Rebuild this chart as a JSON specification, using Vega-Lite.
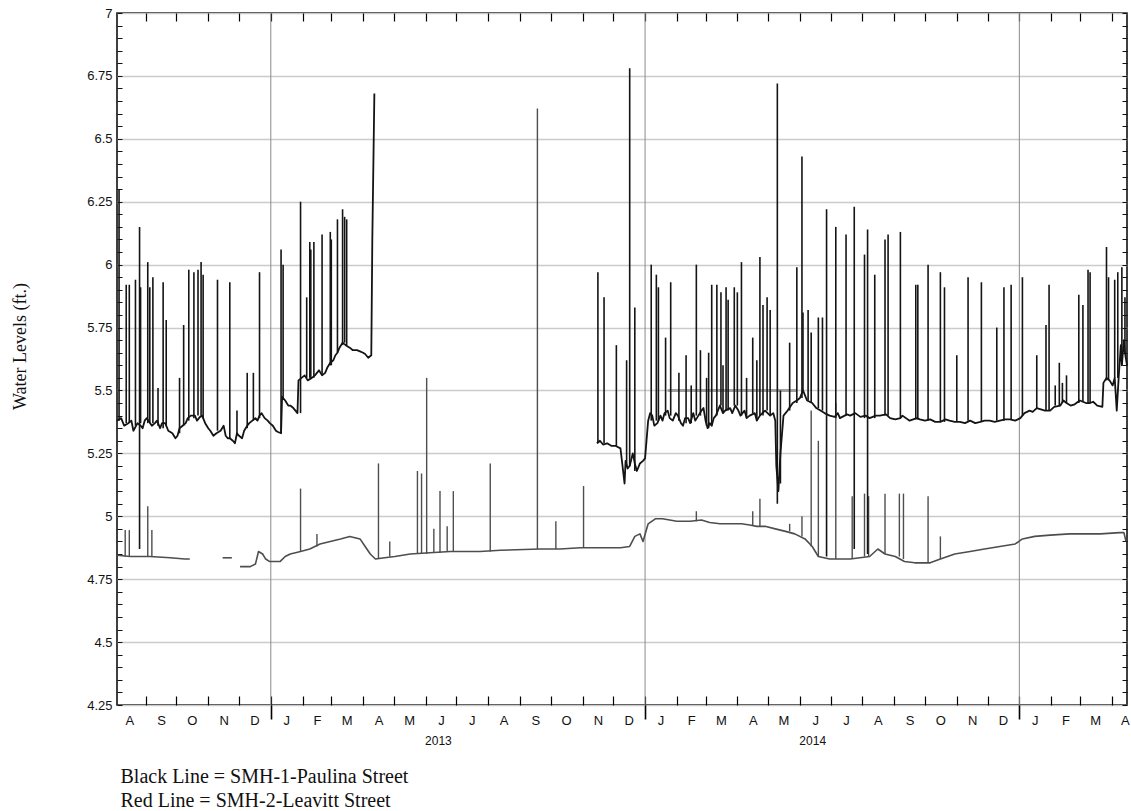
{
  "$schema": "https://vega.github.io/schema/vega-lite/v6.json",
  "width": 1010,
  "height": 692,
  "autosize": "none",
  "padding": {"left": 117, "top": 13, "right": 4, "bottom": 106},
  "background": "white",
  "config": {
    "view": {"stroke": "#000", "strokeWidth": 1.5},
    "axis": {
      "labelFont": "Liberation Sans",
      "titleFont": "Liberation Serif",
      "labelColor": "#111",
      "titleColor": "#111",
      "tickColor": "#111",
      "domain": false,
      "grid": false,
      "labelFlush": false,
      "labelOverlap": false,
      "labelBound": false
    }
  },
  "datasets": {
    "years": [
      {"date": "2013-01-01"},
      {"date": "2014-01-01"},
      {"date": "2015-01-01"}
    ],
    "readings": [
      {"site": "SMH-1", "run": 1, "date": "2012-08-04", "level": 5.38},
      {"site": "SMH-1", "run": 1, "date": "2012-08-08", "level": 5.39},
      {"site": "SMH-1", "run": 1, "date": "2012-08-11", "level": 5.36},
      {"site": "SMH-1", "run": 1, "date": "2012-08-15", "level": 5.37},
      {"site": "SMH-1", "run": 1, "date": "2012-08-18", "level": 5.38},
      {"site": "SMH-1", "run": 1, "date": "2012-08-20", "level": 5.34},
      {"site": "SMH-1", "run": 1, "date": "2012-08-24", "level": 5.37},
      {"site": "SMH-1", "run": 1, "date": "2012-08-27", "level": 5.36},
      {"site": "SMH-1", "run": 1, "date": "2012-08-29", "level": 5.35},
      {"site": "SMH-1", "run": 1, "date": "2012-08-31", "level": 5.38},
      {"site": "SMH-1", "run": 1, "date": "2012-09-02", "level": 5.39},
      {"site": "SMH-1", "run": 1, "date": "2012-09-07", "level": 5.36},
      {"site": "SMH-1", "run": 1, "date": "2012-09-10", "level": 5.37},
      {"site": "SMH-1", "run": 1, "date": "2012-09-12", "level": 5.38},
      {"site": "SMH-1", "run": 1, "date": "2012-09-15", "level": 5.35},
      {"site": "SMH-1", "run": 1, "date": "2012-09-17", "level": 5.37},
      {"site": "SMH-1", "run": 1, "date": "2012-09-20", "level": 5.37},
      {"site": "SMH-1", "run": 1, "date": "2012-09-23", "level": 5.34},
      {"site": "SMH-1", "run": 1, "date": "2012-09-27", "level": 5.33},
      {"site": "SMH-1", "run": 1, "date": "2012-09-30", "level": 5.31},
      {"site": "SMH-1", "run": 1, "date": "2012-10-02", "level": 5.32},
      {"site": "SMH-1", "run": 1, "date": "2012-10-04", "level": 5.35},
      {"site": "SMH-1", "run": 1, "date": "2012-10-07", "level": 5.36},
      {"site": "SMH-1", "run": 1, "date": "2012-10-10", "level": 5.37},
      {"site": "SMH-1", "run": 1, "date": "2012-10-12", "level": 5.39},
      {"site": "SMH-1", "run": 1, "date": "2012-10-15", "level": 5.40},
      {"site": "SMH-1", "run": 1, "date": "2012-10-19", "level": 5.40},
      {"site": "SMH-1", "run": 1, "date": "2012-10-21", "level": 5.38},
      {"site": "SMH-1", "run": 1, "date": "2012-10-24", "level": 5.395},
      {"site": "SMH-1", "run": 1, "date": "2012-10-26", "level": 5.40},
      {"site": "SMH-1", "run": 1, "date": "2012-10-29", "level": 5.37},
      {"site": "SMH-1", "run": 1, "date": "2012-11-01", "level": 5.35},
      {"site": "SMH-1", "run": 1, "date": "2012-11-03", "level": 5.34},
      {"site": "SMH-1", "run": 1, "date": "2012-11-06", "level": 5.32},
      {"site": "SMH-1", "run": 1, "date": "2012-11-09", "level": 5.33},
      {"site": "SMH-1", "run": 1, "date": "2012-11-13", "level": 5.34},
      {"site": "SMH-1", "run": 1, "date": "2012-11-16", "level": 5.36},
      {"site": "SMH-1", "run": 1, "date": "2012-11-18", "level": 5.32},
      {"site": "SMH-1", "run": 1, "date": "2012-11-20", "level": 5.31},
      {"site": "SMH-1", "run": 1, "date": "2012-11-22", "level": 5.31},
      {"site": "SMH-1", "run": 1, "date": "2012-11-25", "level": 5.30},
      {"site": "SMH-1", "run": 1, "date": "2012-11-27", "level": 5.29},
      {"site": "SMH-1", "run": 1, "date": "2012-11-29", "level": 5.33},
      {"site": "SMH-1", "run": 1, "date": "2012-12-01", "level": 5.32},
      {"site": "SMH-1", "run": 1, "date": "2012-12-04", "level": 5.31},
      {"site": "SMH-1", "run": 1, "date": "2012-12-06", "level": 5.34},
      {"site": "SMH-1", "run": 1, "date": "2012-12-09", "level": 5.36},
      {"site": "SMH-1", "run": 1, "date": "2012-12-11", "level": 5.37},
      {"site": "SMH-1", "run": 1, "date": "2012-12-14", "level": 5.38},
      {"site": "SMH-1", "run": 1, "date": "2012-12-17", "level": 5.39},
      {"site": "SMH-1", "run": 1, "date": "2012-12-19", "level": 5.38},
      {"site": "SMH-1", "run": 1, "date": "2012-12-21", "level": 5.40},
      {"site": "SMH-1", "run": 1, "date": "2012-12-23", "level": 5.41},
      {"site": "SMH-1", "run": 1, "date": "2012-12-26", "level": 5.39},
      {"site": "SMH-1", "run": 1, "date": "2012-12-29", "level": 5.38},
      {"site": "SMH-1", "run": 1, "date": "2012-12-31", "level": 5.37},
      {"site": "SMH-1", "run": 1, "date": "2013-01-03", "level": 5.36},
      {"site": "SMH-1", "run": 1, "date": "2013-01-06", "level": 5.34},
      {"site": "SMH-1", "run": 1, "date": "2013-01-08", "level": 5.335},
      {"site": "SMH-1", "run": 1, "date": "2013-01-11", "level": 5.33},
      {"site": "SMH-1", "run": 1, "date": "2013-01-12", "level": 5.475},
      {"site": "SMH-1", "run": 1, "date": "2013-01-15", "level": 5.46},
      {"site": "SMH-1", "run": 1, "date": "2013-01-18", "level": 5.44},
      {"site": "SMH-1", "run": 1, "date": "2013-01-20", "level": 5.44},
      {"site": "SMH-1", "run": 1, "date": "2013-01-23", "level": 5.43},
      {"site": "SMH-1", "run": 1, "date": "2013-01-25", "level": 5.42},
      {"site": "SMH-1", "run": 1, "date": "2013-01-27", "level": 5.41},
      {"site": "SMH-1", "run": 1, "date": "2013-01-28", "level": 5.54},
      {"site": "SMH-1", "run": 1, "date": "2013-01-31", "level": 5.55},
      {"site": "SMH-1", "run": 1, "date": "2013-02-03", "level": 5.56},
      {"site": "SMH-1", "run": 1, "date": "2013-02-06", "level": 5.54},
      {"site": "SMH-1", "run": 1, "date": "2013-02-10", "level": 5.55},
      {"site": "SMH-1", "run": 1, "date": "2013-02-13", "level": 5.56},
      {"site": "SMH-1", "run": 1, "date": "2013-02-15", "level": 5.57},
      {"site": "SMH-1", "run": 1, "date": "2013-02-17", "level": 5.58},
      {"site": "SMH-1", "run": 1, "date": "2013-02-20", "level": 5.56},
      {"site": "SMH-1", "run": 1, "date": "2013-02-23", "level": 5.57},
      {"site": "SMH-1", "run": 1, "date": "2013-02-25", "level": 5.59},
      {"site": "SMH-1", "run": 1, "date": "2013-02-28", "level": 5.61},
      {"site": "SMH-1", "run": 1, "date": "2013-03-03", "level": 5.62},
      {"site": "SMH-1", "run": 1, "date": "2013-03-05", "level": 5.64},
      {"site": "SMH-1", "run": 1, "date": "2013-03-07", "level": 5.65},
      {"site": "SMH-1", "run": 1, "date": "2013-03-09", "level": 5.67},
      {"site": "SMH-1", "run": 1, "date": "2013-03-12", "level": 5.69},
      {"site": "SMH-1", "run": 1, "date": "2013-03-15", "level": 5.68},
      {"site": "SMH-1", "run": 1, "date": "2013-03-19", "level": 5.67},
      {"site": "SMH-1", "run": 1, "date": "2013-03-22", "level": 5.66},
      {"site": "SMH-1", "run": 1, "date": "2013-03-26", "level": 5.66},
      {"site": "SMH-1", "run": 1, "date": "2013-03-29", "level": 5.655},
      {"site": "SMH-1", "run": 1, "date": "2013-04-01", "level": 5.65},
      {"site": "SMH-1", "run": 1, "date": "2013-04-03", "level": 5.645},
      {"site": "SMH-1", "run": 1, "date": "2013-04-06", "level": 5.63},
      {"site": "SMH-1", "run": 1, "date": "2013-04-09", "level": 5.64},
      {"site": "SMH-1", "run": 1, "date": "2013-04-10", "level": 6.10},
      {"site": "SMH-1", "run": 1, "date": "2013-04-12", "level": 6.68},
      {"site": "SMH-1", "run": 2, "date": "2013-11-15", "level": 5.29},
      {"site": "SMH-1", "run": 2, "date": "2013-11-18", "level": 5.30},
      {"site": "SMH-1", "run": 2, "date": "2013-11-21", "level": 5.285},
      {"site": "SMH-1", "run": 2, "date": "2013-11-25", "level": 5.29},
      {"site": "SMH-1", "run": 2, "date": "2013-11-29", "level": 5.28},
      {"site": "SMH-1", "run": 2, "date": "2013-12-03", "level": 5.28},
      {"site": "SMH-1", "run": 2, "date": "2013-12-08", "level": 5.27},
      {"site": "SMH-1", "run": 2, "date": "2013-12-10", "level": 5.20},
      {"site": "SMH-1", "run": 2, "date": "2013-12-12", "level": 5.13},
      {"site": "SMH-1", "run": 2, "date": "2013-12-13", "level": 5.22},
      {"site": "SMH-1", "run": 2, "date": "2013-12-15", "level": 5.19},
      {"site": "SMH-1", "run": 2, "date": "2013-12-17", "level": 5.20},
      {"site": "SMH-1", "run": 2, "date": "2013-12-20", "level": 5.25},
      {"site": "SMH-1", "run": 2, "date": "2013-12-22", "level": 5.21},
      {"site": "SMH-1", "run": 2, "date": "2013-12-24", "level": 5.18},
      {"site": "SMH-1", "run": 2, "date": "2013-12-27", "level": 5.21},
      {"site": "SMH-1", "run": 2, "date": "2013-12-30", "level": 5.22},
      {"site": "SMH-1", "run": 2, "date": "2014-01-01", "level": 5.23},
      {"site": "SMH-1", "run": 2, "date": "2014-01-04", "level": 5.38},
      {"site": "SMH-1", "run": 2, "date": "2014-01-06", "level": 5.41},
      {"site": "SMH-1", "run": 2, "date": "2014-01-08", "level": 5.40},
      {"site": "SMH-1", "run": 2, "date": "2014-01-10", "level": 5.36},
      {"site": "SMH-1", "run": 2, "date": "2014-01-13", "level": 5.37},
      {"site": "SMH-1", "run": 2, "date": "2014-01-16", "level": 5.40},
      {"site": "SMH-1", "run": 2, "date": "2014-01-18", "level": 5.38},
      {"site": "SMH-1", "run": 2, "date": "2014-01-20", "level": 5.41},
      {"site": "SMH-1", "run": 2, "date": "2014-01-23", "level": 5.42},
      {"site": "SMH-1", "run": 2, "date": "2014-01-25", "level": 5.39},
      {"site": "SMH-1", "run": 2, "date": "2014-01-28", "level": 5.38},
      {"site": "SMH-1", "run": 2, "date": "2014-01-31", "level": 5.41},
      {"site": "SMH-1", "run": 2, "date": "2014-02-02", "level": 5.40},
      {"site": "SMH-1", "run": 2, "date": "2014-02-05", "level": 5.37},
      {"site": "SMH-1", "run": 2, "date": "2014-02-07", "level": 5.36},
      {"site": "SMH-1", "run": 2, "date": "2014-02-09", "level": 5.39},
      {"site": "SMH-1", "run": 2, "date": "2014-02-12", "level": 5.39},
      {"site": "SMH-1", "run": 2, "date": "2014-02-14", "level": 5.37},
      {"site": "SMH-1", "run": 2, "date": "2014-02-17", "level": 5.41},
      {"site": "SMH-1", "run": 2, "date": "2014-02-19", "level": 5.38},
      {"site": "SMH-1", "run": 2, "date": "2014-02-22", "level": 5.40},
      {"site": "SMH-1", "run": 2, "date": "2014-02-25", "level": 5.42},
      {"site": "SMH-1", "run": 2, "date": "2014-02-27", "level": 5.43},
      {"site": "SMH-1", "run": 2, "date": "2014-03-01", "level": 5.38},
      {"site": "SMH-1", "run": 2, "date": "2014-03-03", "level": 5.35},
      {"site": "SMH-1", "run": 2, "date": "2014-03-05", "level": 5.37},
      {"site": "SMH-1", "run": 2, "date": "2014-03-07", "level": 5.36},
      {"site": "SMH-1", "run": 2, "date": "2014-03-09", "level": 5.39},
      {"site": "SMH-1", "run": 2, "date": "2014-03-11", "level": 5.40},
      {"site": "SMH-1", "run": 2, "date": "2014-03-13", "level": 5.42},
      {"site": "SMH-1", "run": 2, "date": "2014-03-15", "level": 5.44},
      {"site": "SMH-1", "run": 2, "date": "2014-03-18", "level": 5.41},
      {"site": "SMH-1", "run": 2, "date": "2014-03-20", "level": 5.42},
      {"site": "SMH-1", "run": 2, "date": "2014-03-25", "level": 5.43},
      {"site": "SMH-1", "run": 2, "date": "2014-03-27", "level": 5.41},
      {"site": "SMH-1", "run": 2, "date": "2014-03-30", "level": 5.44},
      {"site": "SMH-1", "run": 2, "date": "2014-04-02", "level": 5.42},
      {"site": "SMH-1", "run": 2, "date": "2014-04-04", "level": 5.40},
      {"site": "SMH-1", "run": 2, "date": "2014-04-08", "level": 5.42},
      {"site": "SMH-1", "run": 2, "date": "2014-04-10", "level": 5.39},
      {"site": "SMH-1", "run": 2, "date": "2014-04-13", "level": 5.40},
      {"site": "SMH-1", "run": 2, "date": "2014-04-18", "level": 5.41},
      {"site": "SMH-1", "run": 2, "date": "2014-04-20", "level": 5.38},
      {"site": "SMH-1", "run": 2, "date": "2014-04-23", "level": 5.40},
      {"site": "SMH-1", "run": 2, "date": "2014-04-28", "level": 5.42},
      {"site": "SMH-1", "run": 2, "date": "2014-05-03", "level": 5.40},
      {"site": "SMH-1", "run": 2, "date": "2014-05-06", "level": 5.41},
      {"site": "SMH-1", "run": 2, "date": "2014-05-08", "level": 5.38},
      {"site": "SMH-1", "run": 2, "date": "2014-05-09", "level": 5.20},
      {"site": "SMH-1", "run": 2, "date": "2014-05-11", "level": 5.10},
      {"site": "SMH-1", "run": 2, "date": "2014-05-13", "level": 5.25},
      {"site": "SMH-1", "run": 2, "date": "2014-05-16", "level": 5.40},
      {"site": "SMH-1", "run": 2, "date": "2014-05-20", "level": 5.42},
      {"site": "SMH-1", "run": 2, "date": "2014-05-25", "level": 5.45},
      {"site": "SMH-1", "run": 2, "date": "2014-05-29", "level": 5.46},
      {"site": "SMH-1", "run": 2, "date": "2014-06-01", "level": 5.47},
      {"site": "SMH-1", "run": 2, "date": "2014-06-04", "level": 5.50},
      {"site": "SMH-1", "run": 2, "date": "2014-06-08", "level": 5.46},
      {"site": "SMH-1", "run": 2, "date": "2014-06-13", "level": 5.45},
      {"site": "SMH-1", "run": 2, "date": "2014-06-17", "level": 5.43},
      {"site": "SMH-1", "run": 2, "date": "2014-06-21", "level": 5.42},
      {"site": "SMH-1", "run": 2, "date": "2014-06-25", "level": 5.41},
      {"site": "SMH-1", "run": 2, "date": "2014-06-30", "level": 5.40},
      {"site": "SMH-1", "run": 2, "date": "2014-07-05", "level": 5.395},
      {"site": "SMH-1", "run": 2, "date": "2014-07-08", "level": 5.41},
      {"site": "SMH-1", "run": 2, "date": "2014-07-10", "level": 5.39},
      {"site": "SMH-1", "run": 2, "date": "2014-07-17", "level": 5.405},
      {"site": "SMH-1", "run": 2, "date": "2014-07-20", "level": 5.40},
      {"site": "SMH-1", "run": 2, "date": "2014-07-25", "level": 5.41},
      {"site": "SMH-1", "run": 2, "date": "2014-07-30", "level": 5.395},
      {"site": "SMH-1", "run": 2, "date": "2014-08-04", "level": 5.40},
      {"site": "SMH-1", "run": 2, "date": "2014-08-08", "level": 5.39},
      {"site": "SMH-1", "run": 2, "date": "2014-08-14", "level": 5.40},
      {"site": "SMH-1", "run": 2, "date": "2014-08-18", "level": 5.40},
      {"site": "SMH-1", "run": 2, "date": "2014-08-24", "level": 5.405},
      {"site": "SMH-1", "run": 2, "date": "2014-08-28", "level": 5.39},
      {"site": "SMH-1", "run": 2, "date": "2014-09-02", "level": 5.385},
      {"site": "SMH-1", "run": 2, "date": "2014-09-07", "level": 5.39},
      {"site": "SMH-1", "run": 2, "date": "2014-09-09", "level": 5.40},
      {"site": "SMH-1", "run": 2, "date": "2014-09-16", "level": 5.38},
      {"site": "SMH-1", "run": 2, "date": "2014-09-23", "level": 5.39},
      {"site": "SMH-1", "run": 2, "date": "2014-09-26", "level": 5.385},
      {"site": "SMH-1", "run": 2, "date": "2014-10-01", "level": 5.38},
      {"site": "SMH-1", "run": 2, "date": "2014-10-06", "level": 5.385},
      {"site": "SMH-1", "run": 2, "date": "2014-10-11", "level": 5.375},
      {"site": "SMH-1", "run": 2, "date": "2014-10-16", "level": 5.375},
      {"site": "SMH-1", "run": 2, "date": "2014-10-21", "level": 5.385},
      {"site": "SMH-1", "run": 2, "date": "2014-10-25", "level": 5.38},
      {"site": "SMH-1", "run": 2, "date": "2014-10-30", "level": 5.375},
      {"site": "SMH-1", "run": 2, "date": "2014-11-04", "level": 5.375},
      {"site": "SMH-1", "run": 2, "date": "2014-11-09", "level": 5.37},
      {"site": "SMH-1", "run": 2, "date": "2014-11-14", "level": 5.38},
      {"site": "SMH-1", "run": 2, "date": "2014-11-19", "level": 5.37},
      {"site": "SMH-1", "run": 2, "date": "2014-11-24", "level": 5.375},
      {"site": "SMH-1", "run": 2, "date": "2014-11-28", "level": 5.38},
      {"site": "SMH-1", "run": 2, "date": "2014-12-03", "level": 5.38},
      {"site": "SMH-1", "run": 2, "date": "2014-12-08", "level": 5.375},
      {"site": "SMH-1", "run": 2, "date": "2014-12-13", "level": 5.38},
      {"site": "SMH-1", "run": 2, "date": "2014-12-18", "level": 5.385},
      {"site": "SMH-1", "run": 2, "date": "2014-12-23", "level": 5.385},
      {"site": "SMH-1", "run": 2, "date": "2014-12-28", "level": 5.38},
      {"site": "SMH-1", "run": 2, "date": "2015-01-02", "level": 5.39},
      {"site": "SMH-1", "run": 2, "date": "2015-01-06", "level": 5.41},
      {"site": "SMH-1", "run": 2, "date": "2015-01-11", "level": 5.42},
      {"site": "SMH-1", "run": 2, "date": "2015-01-14", "level": 5.415},
      {"site": "SMH-1", "run": 2, "date": "2015-01-18", "level": 5.43},
      {"site": "SMH-1", "run": 2, "date": "2015-01-22", "level": 5.425},
      {"site": "SMH-1", "run": 2, "date": "2015-01-26", "level": 5.42},
      {"site": "SMH-1", "run": 2, "date": "2015-01-31", "level": 5.42},
      {"site": "SMH-1", "run": 2, "date": "2015-02-04", "level": 5.435},
      {"site": "SMH-1", "run": 2, "date": "2015-02-10", "level": 5.44},
      {"site": "SMH-1", "run": 2, "date": "2015-02-13", "level": 5.46},
      {"site": "SMH-1", "run": 2, "date": "2015-02-16", "level": 5.45},
      {"site": "SMH-1", "run": 2, "date": "2015-02-20", "level": 5.44},
      {"site": "SMH-1", "run": 2, "date": "2015-02-24", "level": 5.445},
      {"site": "SMH-1", "run": 2, "date": "2015-03-01", "level": 5.46},
      {"site": "SMH-1", "run": 2, "date": "2015-03-04", "level": 5.455},
      {"site": "SMH-1", "run": 2, "date": "2015-03-07", "level": 5.45},
      {"site": "SMH-1", "run": 2, "date": "2015-03-11", "level": 5.45},
      {"site": "SMH-1", "run": 2, "date": "2015-03-14", "level": 5.455},
      {"site": "SMH-1", "run": 2, "date": "2015-03-18", "level": 5.44},
      {"site": "SMH-1", "run": 2, "date": "2015-03-23", "level": 5.435},
      {"site": "SMH-1", "run": 2, "date": "2015-03-24", "level": 5.53},
      {"site": "SMH-1", "run": 2, "date": "2015-03-27", "level": 5.55},
      {"site": "SMH-1", "run": 2, "date": "2015-03-30", "level": 5.54},
      {"site": "SMH-1", "run": 2, "date": "2015-04-02", "level": 5.52},
      {"site": "SMH-1", "run": 2, "date": "2015-04-04", "level": 5.55},
      {"site": "SMH-1", "run": 2, "date": "2015-04-06", "level": 5.42},
      {"site": "SMH-1", "run": 2, "date": "2015-04-08", "level": 5.56},
      {"site": "SMH-1", "run": 2, "date": "2015-04-10", "level": 5.68},
      {"site": "SMH-1", "run": 2, "date": "2015-04-11", "level": 5.60},
      {"site": "SMH-1", "run": 2, "date": "2015-04-13", "level": 5.70},
      {"site": "SMH-1", "run": 2, "date": "2015-04-14", "level": 5.65},
      {"site": "SMH-1", "run": 2, "date": "2015-04-16", "level": 5.60},
      {"site": "SMH-1 fill", "run": 3, "date": "2014-01-23", "level": 5.5},
      {"site": "SMH-1 fill", "run": 3, "date": "2014-05-29", "level": 5.5},
      {"site": "SMH-2", "run": 1, "date": "2012-08-04", "level": 4.845},
      {"site": "SMH-2", "run": 1, "date": "2012-08-17", "level": 4.84},
      {"site": "SMH-2", "run": 1, "date": "2012-09-05", "level": 4.84},
      {"site": "SMH-2", "run": 1, "date": "2012-09-25", "level": 4.835},
      {"site": "SMH-2", "run": 1, "date": "2012-10-09", "level": 4.83},
      {"site": "SMH-2", "run": 1, "date": "2012-10-14", "level": 4.83},
      {"site": "SMH-2", "run": 2, "date": "2012-11-15", "level": 4.835},
      {"site": "SMH-2", "run": 2, "date": "2012-11-24", "level": 4.835},
      {"site": "SMH-2", "run": 3, "date": "2012-12-02", "level": 4.80},
      {"site": "SMH-2", "run": 3, "date": "2012-12-12", "level": 4.80},
      {"site": "SMH-2", "run": 3, "date": "2012-12-17", "level": 4.81},
      {"site": "SMH-2", "run": 3, "date": "2012-12-20", "level": 4.86},
      {"site": "SMH-2", "run": 3, "date": "2012-12-24", "level": 4.85},
      {"site": "SMH-2", "run": 3, "date": "2012-12-27", "level": 4.83},
      {"site": "SMH-2", "run": 3, "date": "2012-12-31", "level": 4.82},
      {"site": "SMH-2", "run": 3, "date": "2013-01-10", "level": 4.82},
      {"site": "SMH-2", "run": 3, "date": "2013-01-15", "level": 4.84},
      {"site": "SMH-2", "run": 3, "date": "2013-01-20", "level": 4.85},
      {"site": "SMH-2", "run": 3, "date": "2013-01-30", "level": 4.86},
      {"site": "SMH-2", "run": 3, "date": "2013-02-08", "level": 4.87},
      {"site": "SMH-2", "run": 3, "date": "2013-02-18", "level": 4.89},
      {"site": "SMH-2", "run": 3, "date": "2013-02-28", "level": 4.90},
      {"site": "SMH-2", "run": 3, "date": "2013-03-10", "level": 4.91},
      {"site": "SMH-2", "run": 3, "date": "2013-03-19", "level": 4.92},
      {"site": "SMH-2", "run": 3, "date": "2013-03-29", "level": 4.91},
      {"site": "SMH-2", "run": 3, "date": "2013-04-03", "level": 4.88},
      {"site": "SMH-2", "run": 3, "date": "2013-04-08", "level": 4.85},
      {"site": "SMH-2", "run": 3, "date": "2013-04-13", "level": 4.83},
      {"site": "SMH-2", "run": 3, "date": "2013-04-22", "level": 4.835},
      {"site": "SMH-2", "run": 3, "date": "2013-05-02", "level": 4.84},
      {"site": "SMH-2", "run": 3, "date": "2013-05-17", "level": 4.85},
      {"site": "SMH-2", "run": 3, "date": "2013-06-05", "level": 4.855},
      {"site": "SMH-2", "run": 3, "date": "2013-06-25", "level": 4.86},
      {"site": "SMH-2", "run": 3, "date": "2013-07-24", "level": 4.86},
      {"site": "SMH-2", "run": 3, "date": "2013-08-13", "level": 4.865},
      {"site": "SMH-2", "run": 3, "date": "2013-09-21", "level": 4.87},
      {"site": "SMH-2", "run": 3, "date": "2013-10-10", "level": 4.87},
      {"site": "SMH-2", "run": 3, "date": "2013-10-30", "level": 4.875},
      {"site": "SMH-2", "run": 3, "date": "2013-11-18", "level": 4.875},
      {"site": "SMH-2", "run": 3, "date": "2013-12-08", "level": 4.875},
      {"site": "SMH-2", "run": 3, "date": "2013-12-17", "level": 4.88},
      {"site": "SMH-2", "run": 3, "date": "2013-12-22", "level": 4.92},
      {"site": "SMH-2", "run": 3, "date": "2013-12-27", "level": 4.93},
      {"site": "SMH-2", "run": 3, "date": "2013-12-30", "level": 4.90},
      {"site": "SMH-2", "run": 3, "date": "2014-01-04", "level": 4.97},
      {"site": "SMH-2", "run": 3, "date": "2014-01-11", "level": 4.99},
      {"site": "SMH-2", "run": 3, "date": "2014-01-18", "level": 4.99},
      {"site": "SMH-2", "run": 3, "date": "2014-01-25", "level": 4.985},
      {"site": "SMH-2", "run": 3, "date": "2014-02-01", "level": 4.98},
      {"site": "SMH-2", "run": 3, "date": "2014-02-14", "level": 4.98},
      {"site": "SMH-2", "run": 3, "date": "2014-02-25", "level": 4.985},
      {"site": "SMH-2", "run": 3, "date": "2014-03-05", "level": 4.975},
      {"site": "SMH-2", "run": 3, "date": "2014-03-15", "level": 4.97},
      {"site": "SMH-2", "run": 3, "date": "2014-03-25", "level": 4.97},
      {"site": "SMH-2", "run": 3, "date": "2014-04-05", "level": 4.97},
      {"site": "SMH-2", "run": 3, "date": "2014-04-13", "level": 4.965},
      {"site": "SMH-2", "run": 3, "date": "2014-04-20", "level": 4.96},
      {"site": "SMH-2", "run": 3, "date": "2014-04-28", "level": 4.96},
      {"site": "SMH-2", "run": 3, "date": "2014-05-08", "level": 4.95},
      {"site": "SMH-2", "run": 3, "date": "2014-05-18", "level": 4.94},
      {"site": "SMH-2", "run": 3, "date": "2014-05-27", "level": 4.93},
      {"site": "SMH-2", "run": 3, "date": "2014-06-06", "level": 4.91},
      {"site": "SMH-2", "run": 3, "date": "2014-06-13", "level": 4.88},
      {"site": "SMH-2", "run": 3, "date": "2014-06-19", "level": 4.84},
      {"site": "SMH-2", "run": 3, "date": "2014-06-30", "level": 4.83},
      {"site": "SMH-2", "run": 3, "date": "2014-07-20", "level": 4.83},
      {"site": "SMH-2", "run": 3, "date": "2014-08-08", "level": 4.84},
      {"site": "SMH-2", "run": 3, "date": "2014-08-16", "level": 4.87},
      {"site": "SMH-2", "run": 3, "date": "2014-08-23", "level": 4.85},
      {"site": "SMH-2", "run": 3, "date": "2014-09-02", "level": 4.84},
      {"site": "SMH-2", "run": 3, "date": "2014-09-11", "level": 4.82},
      {"site": "SMH-2", "run": 3, "date": "2014-09-21", "level": 4.815},
      {"site": "SMH-2", "run": 3, "date": "2014-10-06", "level": 4.815},
      {"site": "SMH-2", "run": 3, "date": "2014-10-16", "level": 4.83},
      {"site": "SMH-2", "run": 3, "date": "2014-10-30", "level": 4.85},
      {"site": "SMH-2", "run": 3, "date": "2014-11-14", "level": 4.86},
      {"site": "SMH-2", "run": 3, "date": "2014-11-28", "level": 4.87},
      {"site": "SMH-2", "run": 3, "date": "2014-12-13", "level": 4.88},
      {"site": "SMH-2", "run": 3, "date": "2014-12-28", "level": 4.89},
      {"site": "SMH-2", "run": 3, "date": "2015-01-04", "level": 4.91},
      {"site": "SMH-2", "run": 3, "date": "2015-01-16", "level": 4.92},
      {"site": "SMH-2", "run": 3, "date": "2015-01-31", "level": 4.925},
      {"site": "SMH-2", "run": 3, "date": "2015-02-19", "level": 4.93},
      {"site": "SMH-2", "run": 3, "date": "2015-03-21", "level": 4.93},
      {"site": "SMH-2", "run": 3, "date": "2015-04-09", "level": 4.935},
      {"site": "SMH-2", "run": 3, "date": "2015-04-13", "level": 4.935},
      {"site": "SMH-2", "run": 3, "date": "2015-04-15", "level": 4.90}
    ],
    "surges": [
      {"site": "SMH-1", "date": "2012-08-06", "low": 5.38, "high": 6.30},
      {"site": "SMH-1", "date": "2012-08-13", "low": 5.37, "high": 5.92},
      {"site": "SMH-1", "date": "2012-08-16", "low": 5.37, "high": 5.92},
      {"site": "SMH-1", "date": "2012-08-22", "low": 5.36, "high": 5.94},
      {"site": "SMH-1", "date": "2012-08-26", "low": 4.87, "high": 6.15},
      {"site": "SMH-1", "date": "2012-08-27", "low": 5.37, "high": 5.91},
      {"site": "SMH-1", "date": "2012-09-03", "low": 5.37, "high": 6.01},
      {"site": "SMH-1", "date": "2012-09-05", "low": 5.37, "high": 5.91},
      {"site": "SMH-1", "date": "2012-09-08", "low": 5.37, "high": 5.95},
      {"site": "SMH-1", "date": "2012-09-13", "low": 5.36, "high": 5.51},
      {"site": "SMH-1", "date": "2012-09-18", "low": 5.35, "high": 5.93},
      {"site": "SMH-1", "date": "2012-09-21", "low": 5.36, "high": 5.78},
      {"site": "SMH-1", "date": "2012-10-04", "low": 5.33, "high": 5.55},
      {"site": "SMH-1", "date": "2012-10-08", "low": 5.36, "high": 5.76},
      {"site": "SMH-1", "date": "2012-10-13", "low": 5.38, "high": 5.98},
      {"site": "SMH-1", "date": "2012-10-18", "low": 5.39, "high": 5.97},
      {"site": "SMH-1", "date": "2012-10-22", "low": 5.40, "high": 5.98},
      {"site": "SMH-1", "date": "2012-10-25", "low": 5.40, "high": 6.01},
      {"site": "SMH-1", "date": "2012-10-27", "low": 5.39, "high": 5.96},
      {"site": "SMH-1", "date": "2012-11-10", "low": 5.34, "high": 5.94},
      {"site": "SMH-1", "date": "2012-11-22", "low": 5.31, "high": 5.93},
      {"site": "SMH-1", "date": "2012-11-29", "low": 5.32, "high": 5.42},
      {"site": "SMH-1", "date": "2012-12-09", "low": 5.35, "high": 5.57},
      {"site": "SMH-1", "date": "2012-12-15", "low": 5.38, "high": 5.57},
      {"site": "SMH-1", "date": "2012-12-21", "low": 5.39, "high": 5.97},
      {"site": "SMH-1", "date": "2013-01-11", "low": 5.33, "high": 6.06},
      {"site": "SMH-1", "date": "2013-01-13", "low": 5.47, "high": 6.00},
      {"site": "SMH-1", "date": "2013-01-30", "low": 5.41, "high": 6.25},
      {"site": "SMH-1", "date": "2013-02-05", "low": 5.55, "high": 5.87},
      {"site": "SMH-1", "date": "2013-02-08", "low": 5.55, "high": 6.09},
      {"site": "SMH-1", "date": "2013-02-09", "low": 5.55, "high": 6.06},
      {"site": "SMH-1", "date": "2013-02-12", "low": 5.55, "high": 6.09},
      {"site": "SMH-1", "date": "2013-02-20", "low": 5.56, "high": 6.12},
      {"site": "SMH-1", "date": "2013-02-28", "low": 5.60, "high": 6.13},
      {"site": "SMH-1", "date": "2013-03-01", "low": 5.60, "high": 6.10},
      {"site": "SMH-1", "date": "2013-03-07", "low": 5.65, "high": 6.18},
      {"site": "SMH-1", "date": "2013-03-12", "low": 5.68, "high": 6.22},
      {"site": "SMH-1", "date": "2013-03-14", "low": 5.69, "high": 6.19},
      {"site": "SMH-1", "date": "2013-03-16", "low": 5.68, "high": 6.18},
      {"site": "SMH-1", "date": "2013-11-16", "low": 5.29, "high": 5.97},
      {"site": "SMH-1", "date": "2013-11-22", "low": 5.29, "high": 5.87},
      {"site": "SMH-1", "date": "2013-12-04", "low": 5.28, "high": 5.68},
      {"site": "SMH-1", "date": "2013-12-14", "low": 5.20, "high": 5.62},
      {"site": "SMH-1", "date": "2013-12-17", "low": 5.20, "high": 6.78},
      {"site": "SMH-1", "date": "2013-12-22", "low": 5.18, "high": 5.83},
      {"site": "SMH-1", "date": "2014-01-07", "low": 5.38, "high": 6.00},
      {"site": "SMH-1", "date": "2014-01-12", "low": 5.38, "high": 5.96},
      {"site": "SMH-1", "date": "2014-01-14", "low": 5.38, "high": 5.91},
      {"site": "SMH-1", "date": "2014-01-21", "low": 5.40, "high": 5.71},
      {"site": "SMH-1", "date": "2014-01-26", "low": 5.40, "high": 5.93},
      {"site": "SMH-1", "date": "2014-02-03", "low": 5.38, "high": 5.57},
      {"site": "SMH-1", "date": "2014-02-10", "low": 5.37, "high": 5.64},
      {"site": "SMH-1", "date": "2014-02-15", "low": 5.37, "high": 5.52},
      {"site": "SMH-1", "date": "2014-02-20", "low": 5.40, "high": 6.00},
      {"site": "SMH-1", "date": "2014-02-24", "low": 5.40, "high": 5.66},
      {"site": "SMH-1", "date": "2014-03-02", "low": 5.36, "high": 5.55},
      {"site": "SMH-1", "date": "2014-03-04", "low": 5.35, "high": 5.65},
      {"site": "SMH-1", "date": "2014-03-07", "low": 5.36, "high": 5.92},
      {"site": "SMH-1", "date": "2014-03-12", "low": 5.40, "high": 5.92},
      {"site": "SMH-1", "date": "2014-03-16", "low": 5.44, "high": 5.89},
      {"site": "SMH-1", "date": "2014-03-18", "low": 5.41, "high": 5.60},
      {"site": "SMH-1", "date": "2014-03-21", "low": 5.42, "high": 5.91},
      {"site": "SMH-1", "date": "2014-03-23", "low": 5.42, "high": 5.86},
      {"site": "SMH-1", "date": "2014-03-29", "low": 5.44, "high": 5.91},
      {"site": "SMH-1", "date": "2014-04-01", "low": 5.44, "high": 5.89},
      {"site": "SMH-1", "date": "2014-04-05", "low": 5.40, "high": 6.01},
      {"site": "SMH-1", "date": "2014-04-10", "low": 5.39, "high": 5.55},
      {"site": "SMH-1", "date": "2014-04-16", "low": 5.41, "high": 5.71},
      {"site": "SMH-1", "date": "2014-04-20", "low": 5.38, "high": 5.62},
      {"site": "SMH-1", "date": "2014-04-23", "low": 5.40, "high": 6.03},
      {"site": "SMH-1", "date": "2014-04-26", "low": 5.40, "high": 5.84},
      {"site": "SMH-1", "date": "2014-04-30", "low": 5.42, "high": 5.87},
      {"site": "SMH-1", "date": "2014-05-03", "low": 5.40, "high": 5.82},
      {"site": "SMH-1", "date": "2014-05-10", "low": 5.05, "high": 6.72},
      {"site": "SMH-1", "date": "2014-05-13", "low": 5.13, "high": 5.50},
      {"site": "SMH-1", "date": "2014-05-22", "low": 5.42, "high": 5.69},
      {"site": "SMH-1", "date": "2014-05-29", "low": 5.45, "high": 5.99},
      {"site": "SMH-1", "date": "2014-06-03", "low": 5.47, "high": 6.43},
      {"site": "SMH-1", "date": "2014-06-04", "low": 5.50, "high": 5.81},
      {"site": "SMH-1", "date": "2014-06-09", "low": 5.46, "high": 5.82},
      {"site": "SMH-1", "date": "2014-06-12", "low": 5.45, "high": 5.73},
      {"site": "SMH-1", "date": "2014-06-19", "low": 5.43, "high": 5.79},
      {"site": "SMH-1", "date": "2014-06-23", "low": 5.42, "high": 5.79},
      {"site": "SMH-1", "date": "2014-06-27", "low": 4.84, "high": 6.22},
      {"site": "SMH-1", "date": "2014-07-06", "low": 5.39, "high": 6.15},
      {"site": "SMH-1", "date": "2014-07-16", "low": 5.40, "high": 6.12},
      {"site": "SMH-1", "date": "2014-07-24", "low": 4.87, "high": 6.23},
      {"site": "SMH-1", "date": "2014-08-03", "low": 5.39, "high": 6.04},
      {"site": "SMH-1", "date": "2014-08-06", "low": 4.85, "high": 6.14},
      {"site": "SMH-1", "date": "2014-08-13", "low": 5.39, "high": 5.96},
      {"site": "SMH-1", "date": "2014-08-23", "low": 5.40, "high": 6.10},
      {"site": "SMH-1", "date": "2014-08-26", "low": 5.40, "high": 6.12},
      {"site": "SMH-1", "date": "2014-09-07", "low": 5.39, "high": 6.13},
      {"site": "SMH-1", "date": "2014-09-22", "low": 5.385, "high": 5.92},
      {"site": "SMH-1", "date": "2014-09-24", "low": 5.385, "high": 5.92},
      {"site": "SMH-1", "date": "2014-10-04", "low": 5.38, "high": 6.00},
      {"site": "SMH-1", "date": "2014-10-16", "low": 5.375, "high": 5.97},
      {"site": "SMH-1", "date": "2014-10-20", "low": 5.375, "high": 5.91},
      {"site": "SMH-1", "date": "2014-11-01", "low": 5.375, "high": 5.64},
      {"site": "SMH-1", "date": "2014-11-12", "low": 5.38, "high": 5.95},
      {"site": "SMH-1", "date": "2014-11-25", "low": 5.375, "high": 5.93},
      {"site": "SMH-1", "date": "2014-12-10", "low": 5.38, "high": 5.75},
      {"site": "SMH-1", "date": "2014-12-17", "low": 5.38, "high": 5.91},
      {"site": "SMH-1", "date": "2014-12-24", "low": 5.385, "high": 5.92},
      {"site": "SMH-1", "date": "2015-01-04", "low": 5.40, "high": 5.95},
      {"site": "SMH-1", "date": "2015-01-18", "low": 5.43, "high": 5.64},
      {"site": "SMH-1", "date": "2015-01-27", "low": 5.42, "high": 5.76},
      {"site": "SMH-1", "date": "2015-01-30", "low": 5.42, "high": 5.92},
      {"site": "SMH-1", "date": "2015-02-05", "low": 5.44, "high": 5.52},
      {"site": "SMH-1", "date": "2015-02-09", "low": 5.44, "high": 5.61},
      {"site": "SMH-1", "date": "2015-02-12", "low": 5.45, "high": 5.53},
      {"site": "SMH-1", "date": "2015-02-16", "low": 5.45, "high": 5.56},
      {"site": "SMH-1", "date": "2015-02-28", "low": 5.45, "high": 5.88},
      {"site": "SMH-1", "date": "2015-03-04", "low": 5.455, "high": 5.84},
      {"site": "SMH-1", "date": "2015-03-09", "low": 5.45, "high": 5.98},
      {"site": "SMH-1", "date": "2015-03-11", "low": 5.45, "high": 5.97},
      {"site": "SMH-1", "date": "2015-03-27", "low": 5.54, "high": 6.07},
      {"site": "SMH-1", "date": "2015-03-29", "low": 5.54, "high": 5.95},
      {"site": "SMH-1", "date": "2015-04-04", "low": 5.55, "high": 5.94},
      {"site": "SMH-1", "date": "2015-04-07", "low": 5.55, "high": 5.97},
      {"site": "SMH-1", "date": "2015-04-11", "low": 5.60, "high": 5.99},
      {"site": "SMH-1", "date": "2015-04-14", "low": 5.65, "high": 5.87},
      {"site": "SMH-2", "date": "2012-08-12", "low": 4.84, "high": 4.945},
      {"site": "SMH-2", "date": "2012-08-16", "low": 4.84, "high": 4.945},
      {"site": "SMH-2", "date": "2012-09-03", "low": 4.84, "high": 5.04},
      {"site": "SMH-2", "date": "2012-09-07", "low": 4.84, "high": 4.945},
      {"site": "SMH-2", "date": "2013-01-30", "low": 4.86, "high": 5.11},
      {"site": "SMH-2", "date": "2013-02-15", "low": 4.88, "high": 4.93},
      {"site": "SMH-2", "date": "2013-04-16", "low": 4.83, "high": 5.21},
      {"site": "SMH-2", "date": "2013-04-27", "low": 4.84, "high": 4.90},
      {"site": "SMH-2", "date": "2013-05-24", "low": 4.85, "high": 5.18},
      {"site": "SMH-2", "date": "2013-05-28", "low": 4.85, "high": 5.17},
      {"site": "SMH-2", "date": "2013-06-02", "low": 4.85, "high": 5.55},
      {"site": "SMH-2", "date": "2013-06-09", "low": 4.855, "high": 4.95},
      {"site": "SMH-2", "date": "2013-06-15", "low": 4.855, "high": 5.10},
      {"site": "SMH-2", "date": "2013-06-22", "low": 4.86, "high": 4.96},
      {"site": "SMH-2", "date": "2013-06-28", "low": 4.86, "high": 5.10},
      {"site": "SMH-2", "date": "2013-08-03", "low": 4.86, "high": 5.21},
      {"site": "SMH-2", "date": "2013-09-18", "low": 4.87, "high": 6.62},
      {"site": "SMH-2", "date": "2013-10-06", "low": 4.87, "high": 4.98},
      {"site": "SMH-2", "date": "2013-11-02", "low": 4.875, "high": 5.12},
      {"site": "SMH-2", "date": "2014-02-20", "low": 4.98, "high": 5.02},
      {"site": "SMH-2", "date": "2014-04-16", "low": 4.965, "high": 5.02},
      {"site": "SMH-2", "date": "2014-04-23", "low": 4.96, "high": 5.07},
      {"site": "SMH-2", "date": "2014-05-22", "low": 4.94, "high": 4.97},
      {"site": "SMH-2", "date": "2014-06-03", "low": 4.92, "high": 5.00},
      {"site": "SMH-2", "date": "2014-06-12", "low": 4.88, "high": 5.42},
      {"site": "SMH-2", "date": "2014-06-19", "low": 4.84, "high": 5.30},
      {"site": "SMH-2", "date": "2014-07-06", "low": 4.83, "high": 5.45},
      {"site": "SMH-2", "date": "2014-07-22", "low": 4.83, "high": 5.08},
      {"site": "SMH-2", "date": "2014-08-03", "low": 4.84, "high": 5.09},
      {"site": "SMH-2", "date": "2014-08-07", "low": 4.84, "high": 5.08},
      {"site": "SMH-2", "date": "2014-08-23", "low": 4.85, "high": 5.09},
      {"site": "SMH-2", "date": "2014-09-06", "low": 4.84, "high": 5.09},
      {"site": "SMH-2", "date": "2014-09-10", "low": 4.83, "high": 5.09},
      {"site": "SMH-2", "date": "2014-10-04", "low": 4.815, "high": 5.08},
      {"site": "SMH-2", "date": "2014-10-16", "low": 4.83, "high": 4.92}
    ]
  },
  "layer": [
    {
      "data": {"name": "years"},
      "mark": {"type": "rule", "color": "#8a8a8a", "strokeWidth": 1},
      "encoding": {
        "x": {
          "field": "date", "type": "temporal",
          "scale": {"type": "utc", "domain": [{"year": 2012, "month": 8, "date": 4, "utc": true}, {"year": 2015, "month": 4, "date": 16, "utc": true}]},
          "axis": {
            "orient": "bottom", "title": null, "labels": false,
            "values": [{"year": 2013, "month": 1, "date": 1, "utc": true}, {"year": 2014, "month": 1, "date": 1, "utc": true}, {"year": 2015, "month": 1, "date": 1, "utc": true}],
            "tickSize": 14, "tickWidth": 1.6, "tickColor": "#000"
          }
        }
      }
    },
    {
      "data": {"name": "readings"},
      "transform": [{"filter": "datum.site === 'SMH-1'"}],
      "mark": {"type": "line", "strokeWidth": 1.8, "strokeJoin": "round"},
      "encoding": {
        "x": {
          "field": "date", "type": "temporal",
          "scale": {"type": "utc", "domain": [{"year": 2012, "month": 8, "date": 4, "utc": true}, {"year": 2015, "month": 4, "date": 16, "utc": true}]},
          "axis": {
            "orient": "bottom", "title": null, "ticks": false, "tickSize": 0,
            "labelPadding": 15, "labelBaseline": "middle", "labelFontSize": 13,
            "labelExpr": "['J','F','M','A','M','J','J','A','S','O','N','D'][utcmonth(datum.value)]",
            "values": [
              {"year": 2012, "month": 8, "date": 16, "utc": true}, {"year": 2012, "month": 9, "date": 16, "utc": true},
              {"year": 2012, "month": 10, "date": 16, "utc": true}, {"year": 2012, "month": 11, "date": 16, "utc": true},
              {"year": 2012, "month": 12, "date": 16, "utc": true},
              {"year": 2013, "month": 1, "date": 16, "utc": true}, {"year": 2013, "month": 2, "date": 15, "utc": true},
              {"year": 2013, "month": 3, "date": 16, "utc": true}, {"year": 2013, "month": 4, "date": 16, "utc": true},
              {"year": 2013, "month": 5, "date": 16, "utc": true}, {"year": 2013, "month": 6, "date": 16, "utc": true},
              {"year": 2013, "month": 7, "date": 16, "utc": true}, {"year": 2013, "month": 8, "date": 16, "utc": true},
              {"year": 2013, "month": 9, "date": 16, "utc": true}, {"year": 2013, "month": 10, "date": 16, "utc": true},
              {"year": 2013, "month": 11, "date": 16, "utc": true}, {"year": 2013, "month": 12, "date": 16, "utc": true},
              {"year": 2014, "month": 1, "date": 16, "utc": true}, {"year": 2014, "month": 2, "date": 15, "utc": true},
              {"year": 2014, "month": 3, "date": 16, "utc": true}, {"year": 2014, "month": 4, "date": 16, "utc": true},
              {"year": 2014, "month": 5, "date": 16, "utc": true}, {"year": 2014, "month": 6, "date": 16, "utc": true},
              {"year": 2014, "month": 7, "date": 16, "utc": true}, {"year": 2014, "month": 8, "date": 16, "utc": true},
              {"year": 2014, "month": 9, "date": 16, "utc": true}, {"year": 2014, "month": 10, "date": 16, "utc": true},
              {"year": 2014, "month": 11, "date": 16, "utc": true}, {"year": 2014, "month": 12, "date": 16, "utc": true},
              {"year": 2015, "month": 1, "date": 16, "utc": true}, {"year": 2015, "month": 2, "date": 15, "utc": true},
              {"year": 2015, "month": 3, "date": 16, "utc": true}, {"year": 2015, "month": 4, "date": 14, "utc": true}
            ]
          }
        },
        "y": {
          "field": "level", "type": "quantitative",
          "scale": {"domain": [4.25, 7], "nice": false, "zero": false},
          "axis": {
            "orient": "left",
            "values": [4.25, 4.5, 4.75, 5, 5.25, 5.5, 5.75, 6, 6.25, 6.5, 6.75, 7],
            "format": ".2~f", "ticks": false, "tickSize": 0,
            "labelPadding": 5, "labelFontSize": 13,
            "grid": true, "gridColor": "#cbcbcb", "gridWidth": 1.3,
            "title": "Water Levels (ft.)", "titleFontSize": 18, "titleFontWeight": "normal",
            "titleAngle": -90, "titleX": -97, "titleY": 333, "titleAlign": "center", "titleBaseline": "middle"
          }
        },
        "color": {
          "field": "site", "type": "nominal", "legend": null,
          "scale": {"domain": ["SMH-1", "SMH-2", "SMH-1 fill"], "range": ["#141414", "#4e4e4e", "#a0a0a0"]}
        },
        "detail": {"field": "run", "type": "nominal"}
      }
    },
    {
      "data": {"name": "readings"},
      "transform": [{"filter": "datum.site === 'SMH-2'"}],
      "mark": {"type": "line", "strokeWidth": 1.6, "strokeJoin": "round"},
      "encoding": {
        "x": {
          "field": "date", "type": "temporal",
          "scale": {"type": "utc", "domain": [{"year": 2012, "month": 8, "date": 4, "utc": true}, {"year": 2015, "month": 4, "date": 16, "utc": true}]},
          "axis": {
            "orient": "bottom", "ticks": false, "tickSize": 0,
            "labelPadding": 35, "labelBaseline": "middle", "labelFontSize": 12,
            "values": [{"year": 2013, "month": 6, "date": 13, "utc": true}, {"year": 2014, "month": 6, "date": 13, "utc": true}],
            "labelExpr": "utcFormat(datum.value, '%Y')",
            "title": ["Black Line = SMH-1-Paulina Street", "Red Line = SMH-2-Leavitt Street"],
            "titleFontSize": 20, "titleFontWeight": "normal", "titleAlign": "left", "titleAnchor": "start",
            "titleX": 3, "titleY": 77, "titleBaseline": "alphabetic", "titleLineHeight": 24
          }
        },
        "y": {
          "field": "level", "type": "quantitative",
          "scale": {"domain": [4.25, 7], "nice": false, "zero": false},
          "axis": {
            "orient": "right", "title": null, "labels": false, "tickSize": 5, "offset": -5, "tickWidth": 1,
            "values": [4.25, 4.3, 4.35, 4.4, 4.45, 4.5, 4.55, 4.6, 4.65, 4.7, 4.75, 4.8, 4.85, 4.9, 4.95, 5, 5.05, 5.1, 5.15, 5.2, 5.25, 5.3, 5.35, 5.4, 5.45, 5.5, 5.55, 5.6, 5.65, 5.7, 5.75, 5.8, 5.85, 5.9, 5.95, 6, 6.05, 6.1, 6.15, 6.2, 6.25, 6.3, 6.35, 6.4, 6.45, 6.5, 6.55, 6.6, 6.65, 6.7, 6.75, 6.8, 6.85, 6.9, 6.95, 7]
          }
        },
        "color": {
          "field": "site", "type": "nominal", "legend": null,
          "scale": {"domain": ["SMH-1", "SMH-2", "SMH-1 fill"], "range": ["#141414", "#4e4e4e", "#a0a0a0"]}
        },
        "detail": {"field": "run", "type": "nominal"}
      }
    },
    {
      "data": {"name": "readings"},
      "transform": [{"filter": "datum.site === 'SMH-1 fill'"}],
      "mark": {"type": "line", "strokeWidth": 3},
      "encoding": {
        "x": {"field": "date", "type": "temporal", "axis": null,
          "scale": {"type": "utc", "domain": [{"year": 2012, "month": 8, "date": 4, "utc": true}, {"year": 2015, "month": 4, "date": 16, "utc": true}]}},
        "y": {"field": "level", "type": "quantitative", "axis": null, "scale": {"domain": [4.25, 7], "nice": false, "zero": false}},
        "color": {
          "field": "site", "type": "nominal", "legend": null,
          "scale": {"domain": ["SMH-1", "SMH-2", "SMH-1 fill"], "range": ["#141414", "#4e4e4e", "#a0a0a0"]}
        }
      }
    },
    {
      "data": {"name": "surges"},
      "transform": [{"filter": "datum.site === 'SMH-2'"}],
      "mark": {"type": "rule", "strokeWidth": 1.4},
      "encoding": {
        "x": {
          "field": "date", "type": "temporal",
          "scale": {"type": "utc", "domain": [{"year": 2012, "month": 8, "date": 4, "utc": true}, {"year": 2015, "month": 4, "date": 16, "utc": true}]},
          "axis": {"orient": "top", "title": null, "labels": false, "tickSize": 8, "offset": -8, "tickWidth": 1.2, "tickColor": "#000", "tickCount": {"interval": "month", "step": 1}}
        },
        "y": {"field": "low", "type": "quantitative", "axis": null, "scale": {"domain": [4.25, 7], "nice": false, "zero": false}},
        "y2": {"field": "high"},
        "color": {
          "field": "site", "type": "nominal", "legend": null,
          "scale": {"domain": ["SMH-1", "SMH-2", "SMH-1 fill"], "range": ["#141414", "#4e4e4e", "#a0a0a0"]}
        }
      }
    },
    {
      "data": {"name": "surges"},
      "transform": [{"filter": "datum.site === 'SMH-1'"}],
      "mark": {"type": "rule", "strokeWidth": 1.6},
      "encoding": {
        "x": {
          "field": "date", "type": "temporal",
          "scale": {"type": "utc", "domain": [{"year": 2012, "month": 8, "date": 4, "utc": true}, {"year": 2015, "month": 4, "date": 16, "utc": true}]},
          "axis": {"orient": "bottom", "title": null, "labels": false, "tickSize": 9, "offset": -9, "tickWidth": 1.2, "tickColor": "#000", "tickCount": {"interval": "month", "step": 1}}
        },
        "y": {
          "field": "low", "type": "quantitative",
          "scale": {"domain": [4.25, 7], "nice": false, "zero": false},
          "axis": {
            "orient": "left", "title": null, "labels": false, "tickSize": 5, "offset": -5, "tickWidth": 1,
            "values": [4.25, 4.3, 4.35, 4.4, 4.45, 4.5, 4.55, 4.6, 4.65, 4.7, 4.75, 4.8, 4.85, 4.9, 4.95, 5, 5.05, 5.1, 5.15, 5.2, 5.25, 5.3, 5.35, 5.4, 5.45, 5.5, 5.55, 5.6, 5.65, 5.7, 5.75, 5.8, 5.85, 5.9, 5.95, 6, 6.05, 6.1, 6.15, 6.2, 6.25, 6.3, 6.35, 6.4, 6.45, 6.5, 6.55, 6.6, 6.65, 6.7, 6.75, 6.8, 6.85, 6.9, 6.95, 7]
          }
        },
        "y2": {"field": "high"},
        "color": {
          "field": "site", "type": "nominal", "legend": null,
          "scale": {"domain": ["SMH-1", "SMH-2", "SMH-1 fill"], "range": ["#141414", "#4e4e4e", "#a0a0a0"]}
        }
      }
    }
  ],
  "resolve": {"axis": {"x": "independent", "y": "independent"}}
}
